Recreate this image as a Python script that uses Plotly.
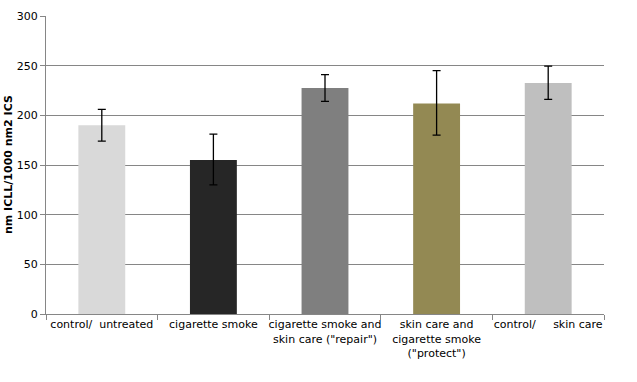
import plotly.graph_objects as go

categories = [
    "control/&nbsp;&nbsp;untreated",
    "cigarette smoke",
    "cigarette smoke and<br>skin care (\"repair\")",
    "skin care and<br>cigarette smoke<br>(\"protect\")",
    "control/&nbsp;&nbsp;&nbsp;&nbsp;&nbsp;skin care",
]
values = [190, 155, 227.5, 212, 232.5]
err_plus = [16, 26, 13.5, 33, 17]
err_minus = [16, 25, 13.5, 32, 16.5]
colors = ["#d9d9d9", "#262626", "#7f7f7f", "#938953", "#bfbfbf"]
y_ticks = [0, 50, 100, 150, 200, 250, 300]
y_title = "nm ICLL/1000 nm2 ICS"

fig = go.Figure(go.Bar(
    x=categories, y=values,
    marker=dict(color=colors, line=dict(width=0)),
    width=0.42,
    error_y=dict(type="data", symmetric=False, array=err_plus, arrayminus=err_minus,
                 color="black", thickness=1.3, width=4),
))

font_family = "DejaVu Sans, Verdana, sans-serif"
fig.update_layout(
    width=637, height=382,
    margin=dict(l=46, r=33, t=16, b=68),
    paper_bgcolor="white", plot_bgcolor="white",
    showlegend=False,
    font=dict(family=font_family, size=11, color="black"),
    xaxis=dict(
        automargin=False, tickangle=0,
        showline=True, linecolor="#868686", linewidth=1,
        ticks="outside", tickson="boundaries", ticklen=5, tickcolor="#868686",
        tickfont=dict(size=11, color="black"),
        showgrid=False,
    ),
    yaxis=dict(
        automargin=False,
        range=[0, 300], tickvals=y_ticks,
        showline=True, linecolor="#868686", linewidth=1,
        ticks="outside", ticklen=5, tickcolor="#868686",
        showgrid=True, gridcolor="#868686", gridwidth=1,
        tickfont=dict(size=11, color="black"),
        zeroline=False,
    ),
    annotations=[dict(
        text="<b>" + y_title + "</b>", textangle=-90,
        xref="paper", yref="paper", x=0, y=0.5,
        xanchor="center", yanchor="middle", xshift=-38,
        showarrow=False, font=dict(size=11, color="black"),
    )],
)

# remove the browser's default 8px body margin so the figure fills the window
fig.write_html("out.html", config={"displayModeBar": False},
               post_script="document.body.style.margin='0';")
